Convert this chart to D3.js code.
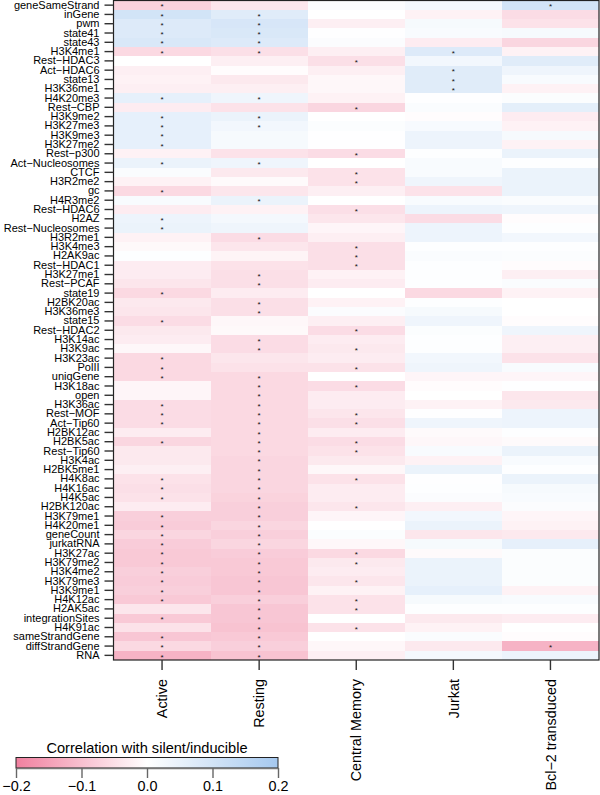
<!DOCTYPE html>
<html>
<head>
<meta charset="utf-8">
<script src="https://cdn.jsdelivr.net/npm/d3@7"></script>
<style>
  html, body { margin: 0; padding: 0; background: #fff; }
  svg { display: block; }
  text { font-family: "Liberation Sans", Arial, Helvetica, sans-serif; }
</style>
</head>
<body>
<svg id="chart" width="600" height="795"></svg>
<script>
// ---------------- data ----------------
const rows = [
  "geneSameStrand","inGene","pwm","state41","state43","H3K4me1","Rest−HDAC3","Act−HDAC6",
  "state13","H3K36me1","H4K20me3","Rest−CBP","H3K9me2","H3K27me3","H3K9me3","H3K27me2",
  "Rest−p300","Act−Nucleosomes","CTCF","H3R2me2","gc","H4R3me2","Rest−HDAC6","H2AZ",
  "Rest−Nucleosomes","H3R2me1","H3K4me3","H2AK9ac","Rest−HDAC1","H3K27me1","Rest−PCAF",
  "state19","H2BK20ac","H3K36me3","state15","Rest−HDAC2","H3K14ac","H3K9ac","H3K23ac",
  "PolII","uniqGene","H3K18ac","open","H3K36ac","Rest−MOF","Act−Tip60","H2BK12ac",
  "H2BK5ac","Rest−Tip60","H3K4ac","H2BK5me1","H4K8ac","H4K16ac","H4K5ac","H2BK120ac",
  "H3K79me1","H4K20me1","geneCount","jurkatRNA","H3K27ac","H3K79me2","H3K4me2",
  "H3K79me3","H3K9me1","H4K12ac","H2AK5ac","integrationSites","H4K91ac",
  "sameStrandGene","diffStrandGene","RNA"
];
const columns = ["Active","Resting","Central Memory","Jurkat","Bcl−2 transduced"];

const activeVals = [
  -0.07,0.10,0.075,0.075,0.085,-0.06,0.0,-0.025,-0.02,-0.025,0.055,-0.03,0.055,0.055,0.055,0.055,
  -0.02,0.045,0.012,-0.02,-0.06,0.015,-0.03,0.04,0.045,-0.02,-0.01,0.005,-0.03,-0.03,-0.04,
  -0.06,-0.035,-0.04,-0.055,-0.035,-0.03,-0.012,-0.06,-0.06,-0.06,-0.015,-0.015,-0.055,-0.055,
  -0.055,-0.03,-0.065,-0.035,-0.035,-0.025,-0.045,-0.05,-0.045,-0.03,-0.075,-0.08,-0.065,-0.08,
  -0.085,-0.085,-0.075,-0.08,-0.075,-0.085,-0.04,-0.085,-0.045,-0.09,-0.06,-0.12
];
const restingVals = [
  -0.04,0.07,0.09,0.085,0.075,-0.05,-0.025,-0.005,-0.035,-0.025,0.035,-0.045,0.045,0.03,0.02,0.02,
  -0.045,0.035,-0.035,-0.008,-0.04,0.045,-0.02,0.025,0.035,-0.055,-0.04,-0.018,-0.045,-0.05,-0.05,
  -0.03,-0.05,-0.05,-0.012,-0.01,-0.055,-0.055,-0.04,-0.045,-0.06,-0.06,-0.06,-0.06,-0.06,
  -0.06,-0.06,-0.06,-0.06,-0.065,-0.065,-0.065,-0.065,-0.07,-0.075,-0.075,-0.065,-0.075,-0.065,
  -0.08,-0.085,-0.085,-0.09,-0.09,-0.075,-0.09,-0.09,-0.095,-0.085,-0.075,-0.095
];
const centralMemoryVals = [
  0.01,0.0,-0.025,0.003,0.01,-0.025,-0.05,-0.025,-0.012,-0.012,-0.02,-0.065,0.0,0.008,0.003,0.002,
  -0.055,0.0,-0.045,-0.045,-0.025,0.0,-0.05,-0.04,-0.015,-0.025,-0.05,-0.05,-0.05,-0.02,-0.03,
  0.0,-0.02,0.01,-0.025,-0.055,-0.03,-0.035,-0.03,-0.045,0.0,-0.055,-0.03,-0.03,-0.04,
  -0.05,-0.03,-0.055,-0.045,-0.035,-0.012,-0.045,-0.03,-0.03,-0.04,-0.015,0.0,0.008,-0.012,
  -0.06,-0.035,-0.03,-0.04,-0.02,-0.045,-0.045,0.0,-0.045,0.0,-0.012,-0.025
];
const jurkatVals = [
  0.025,-0.02,0.02,0.015,-0.03,0.075,0.03,0.07,0.07,0.07,0.003,0.012,-0.005,0.018,0.04,0.04,
  0.005,0.015,0.015,0.035,-0.045,0.015,0.04,-0.055,0.04,0.04,0.005,0.012,0.005,0.005,0.005,
  -0.06,0.005,0.02,0.035,0.008,0.005,0.005,0.03,0.035,-0.015,-0.005,0.0,-0.02,0.003,
  0.035,-0.008,-0.012,0.015,-0.02,0.045,0.003,0.005,0.01,-0.025,0.03,0.045,-0.04,0.02,
  -0.008,0.045,0.045,0.045,0.055,0.02,0.005,-0.035,-0.02,0.012,-0.035,0.025
];
const bcl2Vals = [
  0.10,-0.055,-0.045,0.02,-0.065,-0.02,0.07,0.035,0.015,-0.02,0.008,0.06,-0.03,-0.02,0.02,-0.02,
  0.045,0.005,0.045,0.045,0.045,0.012,0.035,-0.005,0.005,0.03,0.005,0.008,-0.005,-0.025,0.012,
  -0.02,0.0,0.0,-0.005,0.035,-0.025,-0.025,-0.045,0.015,-0.015,0.003,-0.04,-0.035,0.04,
  0.04,0.005,-0.008,0.045,0.015,0.005,0.045,0.02,0.015,0.01,-0.015,-0.02,-0.035,0.055,
  0.008,0.008,0.008,0.008,-0.02,0.015,0.005,-0.03,0.0,-0.005,-0.12,0.04
];

// significance stars (row names per column)
const activeStars = ["geneSameStrand","inGene","pwm","state41","state43","H3K4me1","H4K20me3",
  "H3K9me2","H3K27me3","H3K9me3","H3K27me2","Act−Nucleosomes","gc","H2AZ","Rest−Nucleosomes",
  "state19","state15","H3K23ac","PolII","uniqGene","H3K36ac","Rest−MOF","Act−Tip60","H2BK5ac",
  "H4K8ac","H4K16ac","H4K5ac","H3K79me1","H4K20me1","geneCount","jurkatRNA","H3K27ac",
  "H3K79me2","H3K4me2","H3K79me3","H3K9me1","H4K12ac","integrationSites","sameStrandGene",
  "diffStrandGene","RNA"];
const restingStars = ["inGene","pwm","state41","state43","H3K4me1","H4K20me3","H3K9me2",
  "H3K27me3","Act−Nucleosomes","H4R3me2","H3R2me1","H3K27me1","Rest−PCAF","H2BK20ac","H3K36me3",
  "H3K14ac","H3K9ac","uniqGene","H3K18ac","open","H3K36ac","Rest−MOF","Act−Tip60","H2BK12ac",
  "H2BK5ac","Rest−Tip60","H3K4ac","H2BK5me1","H4K8ac","H4K16ac","H4K5ac","H2BK120ac",
  "H3K79me1","H4K20me1","geneCount","jurkatRNA","H3K27ac","H3K79me2","H3K4me2","H3K79me3",
  "H3K9me1","H4K12ac","H2AK5ac","integrationSites","H4K91ac","sameStrandGene","diffStrandGene","RNA"];
const centralMemoryStars = ["Rest−HDAC3","Rest−CBP","Rest−p300","CTCF","H3R2me2","Rest−HDAC6",
  "H3K4me3","H2AK9ac","Rest−HDAC1","Rest−HDAC2","H3K9ac","PolII","H3K18ac","Rest−MOF","Act−Tip60",
  "H2BK5ac","Rest−Tip60","H4K8ac","H2BK120ac","H3K27ac","H3K79me2","H3K79me3","H4K12ac",
  "H2AK5ac","H4K91ac"];
const jurkatStars = ["H3K4me1","Act−HDAC6","state13","H3K36me1"];
const bcl2Stars = ["geneSameStrand","diffStrandGene"];

const legendTicks = [-0.2, -0.1, 0.0, 0.1, 0.2];
const legendTickLabels = ["−0.2", "−0.1", "0.0", "0.1", "0.2"];
const legendTitle = "Correlation with silent/inducible";

// ---------------- build ----------------
const seriesVals = [activeVals, restingVals, centralMemoryVals, jurkatVals, bcl2Vals];
const seriesStars = [activeStars, restingStars, centralMemoryStars, jurkatStars, bcl2Stars];

const cells = [];
columns.forEach((c, ci) => {
  rows.forEach((r, ri) => {
    cells.push({ row: r, col: c, value: seriesVals[ci][ri], star: seriesStars[ci].includes(r) });
  });
});

const svg = d3.select("#chart");

const plot = { left: 113.5, right: 599, top: 0.5, bottom: 660 };

const x = d3.scaleBand().domain(columns).range([plot.left, plot.right]).paddingInner(0).paddingOuter(0);
const y = d3.scaleBand().domain(rows).range([plot.top, plot.bottom]).paddingInner(0).paddingOuter(0);

const color = d3.scaleLinear()
  .domain([-0.2, 0, 0.2])
  .range(["#F0809F", "#FFFFFF", "#A5C8EF"])
  .interpolate(d3.interpolateRgb)
  .clamp(true);

// cells
svg.append("g").selectAll("rect")
  .data(cells)
  .join("rect")
  .attr("x", d => x(d.col))
  .attr("y", d => y(d.row))
  .attr("width", x.bandwidth() + 0.3)
  .attr("height", y.bandwidth() + 0.3)
  .attr("fill", d => color(d.value))
  .attr("shape-rendering", "crispEdges");

// stars
svg.append("g").selectAll("text")
  .data(cells.filter(d => d.star))
  .join("text")
  .attr("x", d => x(d.col) + x.bandwidth() / 2)
  .attr("y", d => y(d.row) + y.bandwidth() / 2 + 4.2)
  .attr("text-anchor", "middle")
  .attr("font-size", 8)
  .attr("fill", "#111")
  .text("*");

// border
svg.append("rect")
  .attr("x", plot.left)
  .attr("y", plot.top)
  .attr("width", plot.right - plot.left)
  .attr("height", plot.bottom - plot.top)
  .attr("fill", "none")
  .attr("stroke", "#222")
  .attr("stroke-width", 1.2);

// left axis
const yAxis = svg.append("g")
  .attr("transform", `translate(${plot.left},0)`)
  .call(d3.axisLeft(y).tickSize(9).tickSizeOuter(0).tickPadding(5));
yAxis.select(".domain").remove();
yAxis.selectAll(".tick line").attr("stroke", "#333").attr("stroke-width", 1.4);
yAxis.selectAll(".tick text")
  .attr("font-size", 11)
  .attr("fill", "#000")
  .style("font-family", "'Liberation Sans', Arial, sans-serif");

// bottom axis
const xAxis = svg.append("g")
  .attr("transform", `translate(0,${plot.bottom})`)
  .call(d3.axisBottom(x).tickSize(10).tickSizeOuter(0));
xAxis.select(".domain").remove();
xAxis.selectAll(".tick line").attr("stroke", "#333").attr("stroke-width", 1.4);
xAxis.selectAll(".tick text")
  .attr("transform", "rotate(-90)")
  .attr("text-anchor", "end")
  .attr("x", -19)
  .attr("y", 0)
  .attr("dy", "0.36em")
  .attr("font-size", 14.4)
  .attr("fill", "#000")
  .style("font-family", "'Liberation Sans', Arial, sans-serif");

// colour legend
const leg = { left: 16, right: 278, top: 757.5, bottom: 768 };
const lx = d3.scaleLinear().domain([legendTicks[0], legendTicks[legendTicks.length - 1]]).range([leg.left, leg.right]);

const defs = svg.append("defs");
const grad = defs.append("linearGradient").attr("id", "cbar").attr("x1", "0%").attr("x2", "100%");
d3.range(0, 21).forEach(i => {
  const v = lx.domain()[0] + (lx.domain()[1] - lx.domain()[0]) * i / 20;
  grad.append("stop").attr("offset", `${i * 5}%`).attr("stop-color", color(v));
});

svg.append("rect")
  .attr("x", leg.left).attr("y", leg.top)
  .attr("width", leg.right - leg.left).attr("height", leg.bottom - leg.top)
  .attr("fill", "url(#cbar)")
  .attr("stroke", "#222").attr("stroke-width", 1);

const lAxis = svg.append("g")
  .attr("transform", `translate(0,${leg.bottom})`)
  .call(d3.axisBottom(lx).tickValues(legendTicks)
    .tickFormat((d, i) => legendTickLabels[i]).tickSize(10).tickSizeOuter(0).tickPadding(3));
lAxis.select(".domain").attr("stroke", "#777").attr("stroke-width", 1.6);
lAxis.selectAll(".tick line").attr("stroke", "#666").attr("stroke-width", 1.4);
lAxis.selectAll(".tick text")
  .attr("font-size", 14.4)
  .attr("fill", "#000")
  .style("font-family", "'Liberation Sans', Arial, sans-serif");

svg.append("text")
  .attr("x", (leg.left + leg.right) / 2)
  .attr("y", 753)
  .attr("text-anchor", "middle")
  .attr("font-size", 14.6)
  .attr("fill", "#000")
  .text(legendTitle);
</script>
</body>
</html>
